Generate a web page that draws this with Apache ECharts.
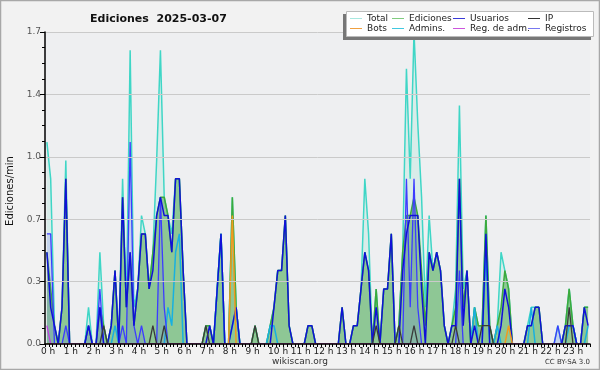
<!DOCTYPE html>
<html><head><meta charset="utf-8">
<script src="https://cdn.jsdelivr.net/npm/echarts@6/dist/echarts.min.js"></script>
<style>html,body{margin:0;padding:0;background:#f2f2f2}#c{width:600px;height:370px}</style>
</head><body><div id="c"></div>
<script>
// 10-minute bins, 144 per series (edits per minute)
const total = [
1.1,0.9,0.1,0,0.2,1.0,  0,0,0,0,0,0.2,  0,0,0.5,0.1,0,0.1,  0.4,0,0.9,0.2,1.6,0.2,
0.3,0.7,0.6,0.3,0.5,1.0,  1.6,0.8,0.7,0.6,0.9,0.9,  0.4,0,0,0,0,0,  0.1,0.1,0,0.3,0.6,0,
0,0.8,0.2,0,0,0,  0,0.1,0,0,0,0.1,  0.2,0.4,0.4,0.7,0.1,0,  0,0,0,0.1,0.1,0,
0,0,0,0,0,0,  0.2,0,0,0.1,0.1,0.3,  0.9,0.6,0,0.3,0,0.3,  0.3,0.6,0,0.1,0.5,1.5,
0.9,1.7,1.2,0.8,0.2,0.7,  0.4,0.5,0.4,0.1,0,0.1,  0.3,1.3,0.3,0.4,0,0.2,  0.1,0.1,0.7,0.1,0,0.1,
0.5,0.4,0.3,0,0,0,  0,0.1,0.2,0.2,0.2,0,  0,0,0,0.1,0,0.1,  0.3,0.1,0,0,0.2,0.2];
const edits = [
0.5,0.3,0.1,0,0.2,0.9,  0,0,0,0,0,0.1,  0,0,0.2,0.1,0,0.1,  0.4,0,0.8,0.2,0.5,0.1,
0.3,0.6,0.6,0.3,0.5,0.7,  0.8,0.8,0.7,0.5,0.9,0.9,  0.4,0,0,0,0,0,  0.1,0.1,0,0.3,0.6,0,
0,0.8,0.2,0,0,0,  0,0.1,0,0,0,0.1,  0.2,0.4,0.4,0.7,0.1,0,  0,0,0,0.1,0.1,0,
0,0,0,0,0,0,  0.2,0,0,0.1,0.1,0.3,  0.5,0.4,0,0.3,0,0.3,  0.3,0.6,0,0.1,0.5,0.7,
0.7,0.8,0.7,0.4,0.1,0.5,  0.4,0.5,0.4,0.1,0,0.1,  0.2,0.9,0.2,0.4,0,0.2,  0.1,0.1,0.7,0.1,0,0.1,
0.2,0.4,0.3,0,0,0,  0,0.1,0.1,0.2,0.2,0,  0,0,0,0,0,0.1,  0.3,0.1,0,0,0.2,0.2];
const users = [
0.5,0.2,0.1,0,0.2,0.9,  0,0,0,0,0,0.1,  0,0,0.2,0,0,0.1,  0.4,0,0.8,0.2,0.5,0.1,
0.3,0.6,0.6,0.3,0.4,0.7,  0.8,0.7,0.7,0.5,0.9,0.9,  0.4,0,0,0,0,0,  0,0.1,0,0.3,0.6,0,
0,0.1,0.2,0,0,0,  0,0,0,0,0,0,  0.2,0.4,0.4,0.7,0.1,0,  0,0,0,0.1,0.1,0,
0,0,0,0,0,0,  0.2,0,0,0.1,0.1,0.3,  0.5,0.4,0,0.2,0,0.3,  0.3,0.6,0,0,0.4,0.6,
0.7,0.7,0.7,0.3,0,0.5,  0.4,0.5,0.4,0.1,0,0.1,  0.1,0.9,0.1,0.4,0,0.1,  0,0,0.6,0,0,0,
0.1,0.3,0.2,0,0,0,  0,0.1,0.1,0.2,0.2,0,  0,0,0,0,0,0.1,  0.1,0.1,0,0,0.2,0.1];
const ip = [
0,0,0,0,0,0,  0,0,0,0,0,0,  0,0,0,0.1,0,0,  0,0,0,0,0,0,
0,0,0,0,0.1,0,  0,0.1,0,0,0,0,  0,0,0,0,0,0,  0.1,0,0,0,0,0,
0,0,0,0,0,0,  0,0.1,0,0,0,0,  0,0,0,0,0,0,  0,0,0,0,0,0,
0,0,0,0,0,0,  0,0,0,0,0,0,  0,0,0,0.1,0,0,  0,0,0,0.1,0,0,
0,0.1,0,0,0,0,  0,0,0,0,0,0,  0.1,0,0,0,0,0,  0,0.1,0.1,0.1,0,0,
0,0,0,0,0,0,  0,0,0,0,0,0,  0,0,0,0,0,0,  0.2,0,0,0,0,0];
const bots = [
0,0,0,0,0,0,  0,0,0,0,0,0,  0,0,0,0,0,0,  0,0,0,0,0,0,
0,0,0,0,0,0,  0,0,0,0,0,0,  0,0,0,0,0,0,  0,0,0,0,0,0,
0,0.7,0,0,0,0,  0,0,0,0,0,0,  0,0,0,0,0,0,  0,0,0,0,0,0,
0,0,0,0,0,0,  0,0,0,0,0,0,  0,0,0,0,0,0,  0,0,0,0,0,0,
0,0,0,0,0,0,  0,0,0,0,0,0,  0,0,0,0,0,0,  0,0,0,0,0,0,
0,0,0.1,0,0,0,  0,0,0,0,0,0,  0,0,0,0,0,0,  0,0,0,0,0,0];
const admins = [
0,0,0,0,0,0,  0,0,0,0,0,0,  0,0,0,0,0,0,  0.1,0,0,0,0,0,
0,0,0,0,0,0,  0,0,0.2,0.1,0.5,0.6,  0,0,0,0,0,0,  0,0,0,0.3,0.6,0,
0,0.1,0.2,0,0,0,  0,0,0,0,0,0.1,  0.1,0,0,0,0,0,  0,0,0,0,0,0,
0,0,0,0,0,0,  0,0,0,0,0,0,  0,0,0,0,0,0,  0,0,0,0,0,0,
0,0,0,0,0,0,  0,0,0,0,0,0,  0,0,0,0,0,0.2,  0,0,0.5,0,0,0.1,
0,0,0,0,0,0,  0,0,0.2,0,0,0,  0,0,0,0,0,0,  0.1,0.1,0,0,0,0.1];
const regAdm = [
0.1,0,0,0,0,0,  0,0,0,0,0,0,  0,0,0,0,0,0,  0,0,0,0,0,0,
0,0,0,0,0,0,  0,0,0,0,0,0,  0,0,0,0,0,0,  0,0,0,0,0,0,
0,0,0,0,0,0,  0,0,0,0,0,0,  0,0,0,0,0,0,  0,0,0,0,0,0,
0,0,0,0,0,0,  0,0,0,0,0,0,  0,0,0,0,0,0,  0,0,0,0,0,0,
0,0,0,0,0,0,  0,0,0,0,0,0,  0,0,0,0,0,0,  0,0,0,0,0,0,
0,0,0,0,0,0,  0,0,0,0,0,0,  0,0,0,0,0,0,  0,0,0,0,0,0];
const logs = [
0.6,0.6,0,0,0,0.1,  0,0,0,0,0,0.1,  0,0,0.3,0,0,0,  0,0,0.1,0,1.1,0.1,
0,0.1,0,0,0,0,  0.8,0.2,0,0,0,0,  0,0,0,0,0,0,  0,0,0,0,0,0,
0,0,0,0,0,0,  0,0,0,0,0,0,  0,0,0,0,0,0,  0,0,0,0,0,0,
0,0,0,0,0,0,  0,0,0,0,0,0,  0,0,0,0,0,0,  0,0,0,0,0,0.9,
0.2,0.9,0.2,0,0,0,  0,0,0,0,0,0,  0,0.4,0,0,0,0,  0,0,0,0,0,0,
0,0,0,0,0,0,  0,0,0,0,0,0,  0,0,0,0.1,0,0,  0,0,0,0,0,0];
const names = ['Total','Ediciones','Usuarios','IP','Bots','Admins.','Reg. de adm.','Registros'];

const BIN = 10;
const toXY = arr => arr.map((v, i) => [i * BIN + BIN / 2, v]);
const FONT = 'DejaVu Sans';

function lineSeries(name, arr, color, width, area, z) {
  const s = {
    name, type: 'line', data: toXY(arr), symbol: 'none', z: z,
    lineStyle: { color, width }, itemStyle: { color },
    emphasis: { disabled: true }, animation: false
  };
  if (area) s.areaStyle = { color: area, opacity: 1 };
  return s;
}

const legendColors = ['#a8e8e0','#80cc80','#3a3ad8','#333333','#f0a040','#40c8e0','#cc55dd','#7878f0'];
const legendPos = [[350,14],[392,14],[453,14],[528,14],[350,24],[392,24],[453,24],[528,24]];
const legends = names.map((n, k) => ({
  show: true, left: legendPos[k][0], top: legendPos[k][1], padding: 0, z: 20,
  icon: 'rect', itemWidth: 12, itemHeight: 1, itemGap: 0, selectedMode: false,
  textStyle: { fontFamily: FONT, fontSize: 9, color: '#222' },
  data: [{ name: n, itemStyle: { color: legendColors[k] } }]
}));

const chart = echarts.init(document.getElementById('c'), null, { renderer: 'canvas' });
chart.setOption({
  backgroundColor: '#f2f2f2',
  animation: false,
  title: { text: 'Ediciones  2025-03-07', left: 85, top: 9,
    textStyle: { fontFamily: FONT, fontSize: 11, fontWeight: 'bold', color: '#111' } },
  legend: legends,
  grid: { left: 45, right: 10, top: 32, bottom: 26, show: true, backgroundColor: '#eeeff1', borderWidth: 0 },
  xAxis: {
    type: 'value', min: 0, max: 1440, interval: 60, z: 15,
    axisLine: { show: true, lineStyle: { color: '#000', width: 1.5 } },
    axisTick: { show: true, length: 3, lineStyle: { color: '#000' } },
    minorTick: { show: true, splitNumber: 6, length: 3, lineStyle: { color: '#000' } },
    splitLine: { show: false },
    axisLabel: { fontFamily: FONT, fontSize: 9, color: '#222', margin: 3, align: 'left',
      padding: [0,0,0,-4],
      formatter: v => v < 1440 ? (v / 60) + ' h' : '' }
  },
  yAxis: {
    type: 'value', min: 0, max: 1.7, interval: 0.34, z: 15,
    axisLine: { show: true, lineStyle: { color: '#000', width: 1.5 } },
    axisTick: { show: true, length: 5, lineStyle: { color: '#000' } },
    minorTick: { show: true, splitNumber: 4, length: 3, lineStyle: { color: '#000' } },
    splitLine: { show: true, lineStyle: { color: '#cacaca', width: 1 } },
    axisLabel: { fontFamily: FONT, fontSize: 9, color: '#555', margin: 4,
      formatter: v => v.toFixed(1) }
  },
  graphic: [
    { type: 'rect', z: 100, silent: true, shape: { x: 0.5, y: 0.5, width: 599, height: 369 },
      style: { fill: 'none', stroke: '#a8a8a8', lineWidth: 1.5 } },
    { type: 'rect', z: 18, silent: true, shape: { x: 343, y: 14, width: 248, height: 26 },
      style: { fill: '#777' } },
    { type: 'rect', z: 19, silent: true, shape: { x: 346.5, y: 11.5, width: 247, height: 25 },
      style: { fill: '#fff', stroke: '#bbb', lineWidth: 1 } },
    { type: 'text', z: 30, silent: true, x: 10, y: 191, rotation: Math.PI / 2,
      style: { text: 'Ediciones/min', fontFamily: FONT, fontSize: 10, fill: '#111', align: 'center', verticalAlign: 'middle' } },
    { type: 'text', z: 30, silent: true, x: 300, y: 362,
      style: { text: 'wikiscan.org', fontFamily: FONT, fontSize: 9, fill: '#333', align: 'center', verticalAlign: 'middle' } },
    { type: 'text', z: 30, silent: true, x: 590, y: 362,
      style: { text: 'CC BY-SA 3.0', fontFamily: FONT, fontSize: 7, fill: '#333', align: 'right', verticalAlign: 'middle' } }
  ],
  series: [
    lineSeries('Total', total, '#3fd6c6', 1.5, 'rgba(120,220,200,0.18)', 2),
    lineSeries('Ediciones', edits, '#3caa3c', 1.5, 'rgba(80,170,80,0.55)', 3),
    lineSeries('Admins.', admins, '#18b0e0', 1.5, null, 4),
    lineSeries('Registros', logs, '#3c3cff', 1.3, 'rgba(70,70,255,0.14)', 5),
    lineSeries('Usuarios', users, '#1010d8', 1.5, null, 6),
    lineSeries('IP', ip, '#3a3a3a', 1.3, null, 7),
    lineSeries('Bots', bots, '#f09a20', 1.5, null, 8),
    lineSeries('Reg. de adm.', regAdm, '#c040e0', 1.3, null, 9)
  ]
});
</script></body></html>
